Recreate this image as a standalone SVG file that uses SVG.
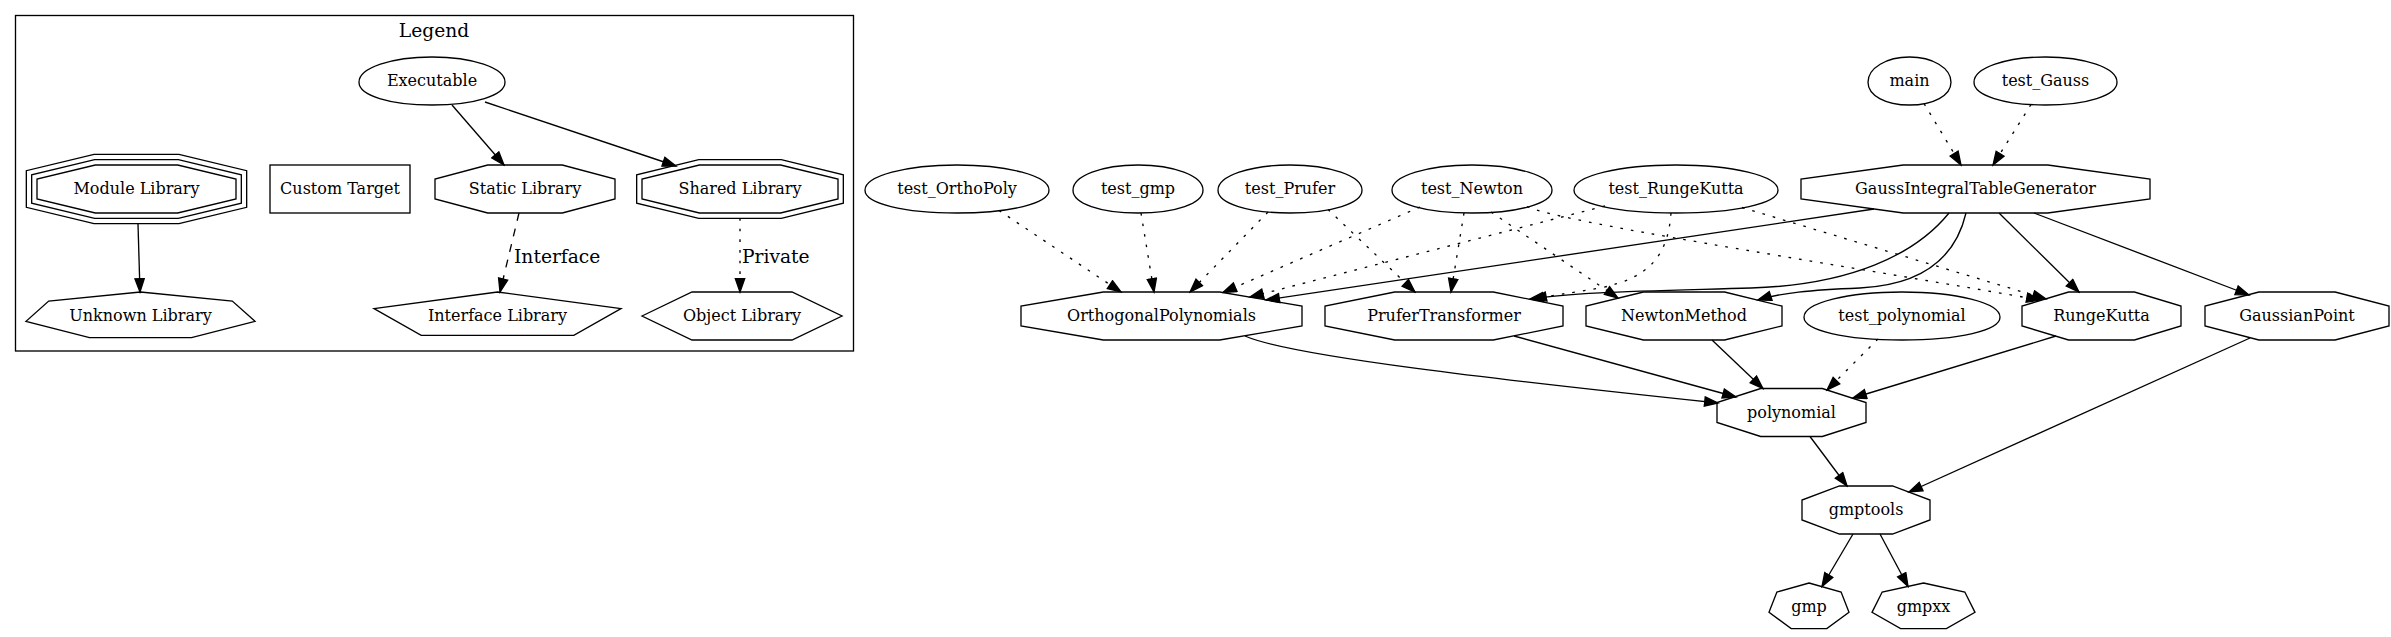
<svg xmlns="http://www.w3.org/2000/svg" width="2391" height="637" viewBox="0 0 2391 637">
<style>
.s{fill:none;stroke:#000;stroke-width:1.33}
.t{font-family:"DejaVu Serif",serif;font-size:16px;text-anchor:middle;fill:#000}
.tl{font-family:"DejaVu Serif",serif;font-size:18.67px;fill:#000}
.e{fill:none;stroke:#000;stroke-width:1.33;marker-end:url(#arr)}
.dot{stroke-dasharray:2.67 8}
.dash{stroke-dasharray:8 8}
</style>
<defs>
<marker id="arr" markerUnits="userSpaceOnUse" markerWidth="16" markerHeight="12" viewBox="-1 -1 16 12" refX="13.33" refY="4.67" orient="auto">
<path d="M0,0 L13.33,4.67 L0,9.33 Z" fill="#000" stroke="#000" stroke-width="1.33" stroke-dasharray="none"/>
</marker>
</defs>
<rect width="2391" height="637" fill="#fff"/>

<g id="legend">
<rect class="s" x="15.5" y="15.5" width="838" height="335.5"/>
<text class="tl" x="434" y="37" text-anchor="middle">Legend</text>
</g>

<g id="connectors">
<path class="e" d="M452,105 L504,165"/>
<path class="e" d="M485,102 L676,166"/>
<path class="e" d="M138,224 L140,292"/>
<path class="e dash" d="M519,213 L500,292"/>
<text class="tl" x="514" y="263">Interface</text>
<path class="e dot" d="M740,218 L740,292"/>
<text class="tl" x="742" y="263">Private</text>

<path class="e dot" d="M1924,103.5 L1961,165"/>
<path class="e dot" d="M2031,104.5 L1993,165"/>
<path class="e dot" d="M999,210.5 L1121,292"/>
<path class="e dot" d="M1141,213 L1154,292"/>
<path class="e dot" d="M1268,212 L1190,292"/>
<path class="e dot" d="M1328,209.5 L1415,292"/>
<path class="e dot" d="M1420,207 L1223,292.5"/>
<path class="e dot" d="M1464,213 L1451,292"/>
<path class="e dot" d="M1491,212 L1618,298"/>
<path class="e dot" d="M1527,206.5 C1560,222 1800,258 2040,300"/>
<path class="e dot" d="M1605,206 L1250,297"/>
<path class="e dot" d="M1671,213 C1668,255 1650,278 1600,288 C1570,293 1550,296 1530,299"/>
<path class="e dot" d="M1742,207.5 L2046,299"/>
<path class="e" d="M1874,209 L1266,300"/>
<path class="e" d="M1949,213 C1915,255 1850,285 1751,288 C1650,291 1570,292 1533,299"/>
<path class="e" d="M1966,213 C1955,260 1920,285 1860,288 C1810,290 1780,293 1758,300"/>
<path class="e" d="M1999,213 L2079,292"/>
<path class="e" d="M2034,213 L2249,295"/>
<path class="e" d="M1245,336 C1290,356 1500,380 1718,403"/>
<path class="e" d="M1514,336 L1736,397"/>
<path class="e" d="M1712,340 L1763,388.5"/>
<path class="e dot" d="M1878,339 L1827,390"/>
<path class="e" d="M2056,336 L1853,398"/>
<path class="e" d="M2250,338 L1909,492"/>
<path class="e" d="M1810,436.5 L1847,486"/>
<path class="e" d="M1853,534 L1822,586.5"/>
<path class="e" d="M1880,534 L1908,586.5"/>
</g>

<g id="n_executable"><path class="s" d="M432,57 c40.15,0 73,10.8 73,25.2 c0,13.2 -30.66,22.8 -73,22.8 c-42.34,0 -73,-9.6 -73,-22.8 c0,-14.4 32.85,-25.2 73,-25.2 z"/><text class="t" x="432" y="86">Executable</text></g>
<g id="n_module"><polygon class="s" points="95.3,165 177.7,165 236,179.06 236,198.94 177.7,213 95.3,213 37,198.94 37,179.06"/><polygon class="s" points="94.66,159.67 178.34,159.67 241.33,174.86 241.33,203.14 178.34,218.33 94.66,218.33 31.67,203.14 31.67,174.86"/><polygon class="s" points="94.02,154.33 178.98,154.33 246.67,170.66 246.67,207.34 178.98,223.67 94.02,223.67 26.33,207.34 26.33,170.66"/><text class="t" x="136.5" y="194">Module Library</text></g>
<g id="n_custom"><rect class="s" x="270" y="165" width="140" height="48"/><text class="t" x="340" y="194">Custom Target</text></g>
<g id="n_static"><polygon class="s" points="487.7,165 562.3,165 615,179.06 615,198.94 562.3,213 487.7,213 435,198.94 435,179.06"/><text class="t" x="525" y="194">Static Library</text></g>
<g id="n_shared"><polygon class="s" points="699.41,165 780.59,165 838,179.06 838,198.94 780.59,213 699.41,213 642,198.94 642,179.06"/><polygon class="s" points="698.77,159.67 781.23,159.67 843.33,174.88 843.33,203.12 781.23,218.33 698.77,218.33 636.67,203.12 636.67,174.88"/><text class="t" x="740" y="194">Shared Library</text></g>
<g id="n_unknown"><polygon class="s" points="140.5,292 232.3,301.05 255,321.35 191.5,337.62 89.5,337.62 26,321.35 48.7,301.05"/><text class="t" x="140.5" y="321">Unknown Library</text></g>
<g id="n_interface"><polygon class="s" points="497.5,292 621,308.58 573.8,335.42 421.2,335.42 374,308.58"/><text class="t" x="497.5" y="321">Interface Library</text></g>
<g id="n_object"><polygon class="s" points="642,316 692,292 792,292 842,316 792,340 692,340"/><text class="t" x="742" y="321">Object Library</text></g>

<g id="n_main"><path class="s" d="M1909.5,57 c22.83,0 41.5,10.8 41.5,25.2 c0,13.2 -17.43,22.8 -41.5,22.8 c-24.07,0 -41.5,-9.6 -41.5,-22.8 c0,-14.4 18.68,-25.2 41.5,-25.2 z"/><text class="t" x="1909.5" y="86">main</text></g>
<g id="n_test_Gauss"><path class="s" d="M2045.5,57 c39.33,0 71.5,10.8 71.5,25.2 c0,13.2 -30.03,22.8 -71.5,22.8 c-41.47,0 -71.5,-9.6 -71.5,-22.8 c0,-14.4 32.18,-25.2 71.5,-25.2 z"/><text class="t" x="2045.5" y="86">test_Gauss</text></g>
<g id="n_test_OrthoPoly"><path class="s" d="M957,165 c50.6,0 92,10.8 92,25.2 c0,13.2 -38.64,22.8 -92,22.8 c-53.36,0 -92,-9.6 -92,-22.8 c0,-14.4 41.4,-25.2 92,-25.2 z"/><text class="t" x="957" y="194">test_OrthoPoly</text></g>
<g id="n_test_gmp"><path class="s" d="M1138,165 c35.75,0 65,10.8 65,25.2 c0,13.2 -27.3,22.8 -65,22.8 c-37.7,0 -65,-9.6 -65,-22.8 c0,-14.4 29.25,-25.2 65,-25.2 z"/><text class="t" x="1138" y="194">test_gmp</text></g>
<g id="n_test_Prufer"><path class="s" d="M1290,165 c39.6,0 72,10.8 72,25.2 c0,13.2 -30.24,22.8 -72,22.8 c-41.76,0 -72,-9.6 -72,-22.8 c0,-14.4 32.4,-25.2 72,-25.2 z"/><text class="t" x="1290" y="194">test_Prufer</text></g>
<g id="n_test_Newton"><path class="s" d="M1472,165 c44,0 80,10.8 80,25.2 c0,13.2 -33.6,22.8 -80,22.8 c-46.4,0 -80,-9.6 -80,-22.8 c0,-14.4 36,-25.2 80,-25.2 z"/><text class="t" x="1472" y="194">test_Newton</text></g>
<g id="n_test_RungeKutta"><path class="s" d="M1676,165 c56.1,0 102,10.8 102,25.2 c0,13.2 -42.84,22.8 -102,22.8 c-59.16,0 -102,-9.6 -102,-22.8 c0,-14.4 45.9,-25.2 102,-25.2 z"/><text class="t" x="1676" y="194">test_RungeKutta</text></g>
<g id="n_GITG"><polygon class="s" points="1903.22,165 2047.78,165 2150,179.06 2150,198.94 2047.78,213 1903.22,213 1801,198.94 1801,179.06"/><text class="t" x="1975.5" y="194">GaussIntegralTableGenerator</text></g>
<g id="n_Ortho"><polygon class="s" points="1103.3,292 1219.7,292 1302,306.06 1302,325.94 1219.7,340 1103.3,340 1021,325.94 1021,306.06"/><text class="t" x="1161.5" y="321">OrthogonalPolynomials</text></g>
<g id="n_Prufer"><polygon class="s" points="1394.71,292 1493.29,292 1563,306.06 1563,325.94 1493.29,340 1394.71,340 1325,325.94 1325,306.06"/><text class="t" x="1444" y="321">PruferTransformer</text></g>
<g id="n_Newton"><polygon class="s" points="1643.41,292 1724.59,292 1782,306.06 1782,325.94 1724.59,340 1643.41,340 1586,325.94 1586,306.06"/><text class="t" x="1684" y="321">NewtonMethod</text></g>
<g id="n_test_polynomial"><path class="s" d="M1902,292 c53.9,0 98,10.8 98,25.2 c0,13.2 -41.16,22.8 -98,22.8 c-56.84,0 -98,-9.6 -98,-22.8 c0,-14.4 44.1,-25.2 98,-25.2 z"/><text class="t" x="1902" y="321">test_polynomial</text></g>
<g id="n_RungeKutta"><polygon class="s" points="2068.57,292 2134.43,292 2181,306.06 2181,325.94 2134.43,340 2068.57,340 2022,325.94 2022,306.06"/><text class="t" x="2101.5" y="321">RungeKutta</text></g>
<g id="n_GaussianPoint"><polygon class="s" points="2258.89,292 2335.11,292 2389,306.06 2389,325.94 2335.11,340 2258.89,340 2205,325.94 2205,306.06"/><text class="t" x="2297" y="321">GaussianPoint</text></g>
<g id="n_polynomial"><polygon class="s" points="1760.64,388.5 1822.36,388.5 1866,402.56 1866,422.44 1822.36,436.5 1760.64,436.5 1717,422.44 1717,402.56"/><text class="t" x="1791.5" y="417.5">polynomial</text></g>
<g id="n_gmptools"><polygon class="s" points="1839.49,486 1892.51,486 1930,500.06 1930,519.94 1892.51,534 1839.49,534 1802,519.94 1802,500.06"/><text class="t" x="1866" y="515">gmptools</text></g>
<g id="n_gmp"><polygon class="s" points="1809,583 1841.1,592.05 1849,612.35 1826.8,628.62 1791.2,628.62 1769,612.35 1776.9,592.05"/><text class="t" x="1809" y="612">gmp</text></g>
<g id="n_gmpxx"><polygon class="s" points="1923.5,583 1964.8,592.05 1975,612.35 1946.4,628.62 1900.6,628.62 1872,612.35 1882.2,592.05"/><text class="t" x="1923.5" y="612">gmpxx</text></g>
</svg>
